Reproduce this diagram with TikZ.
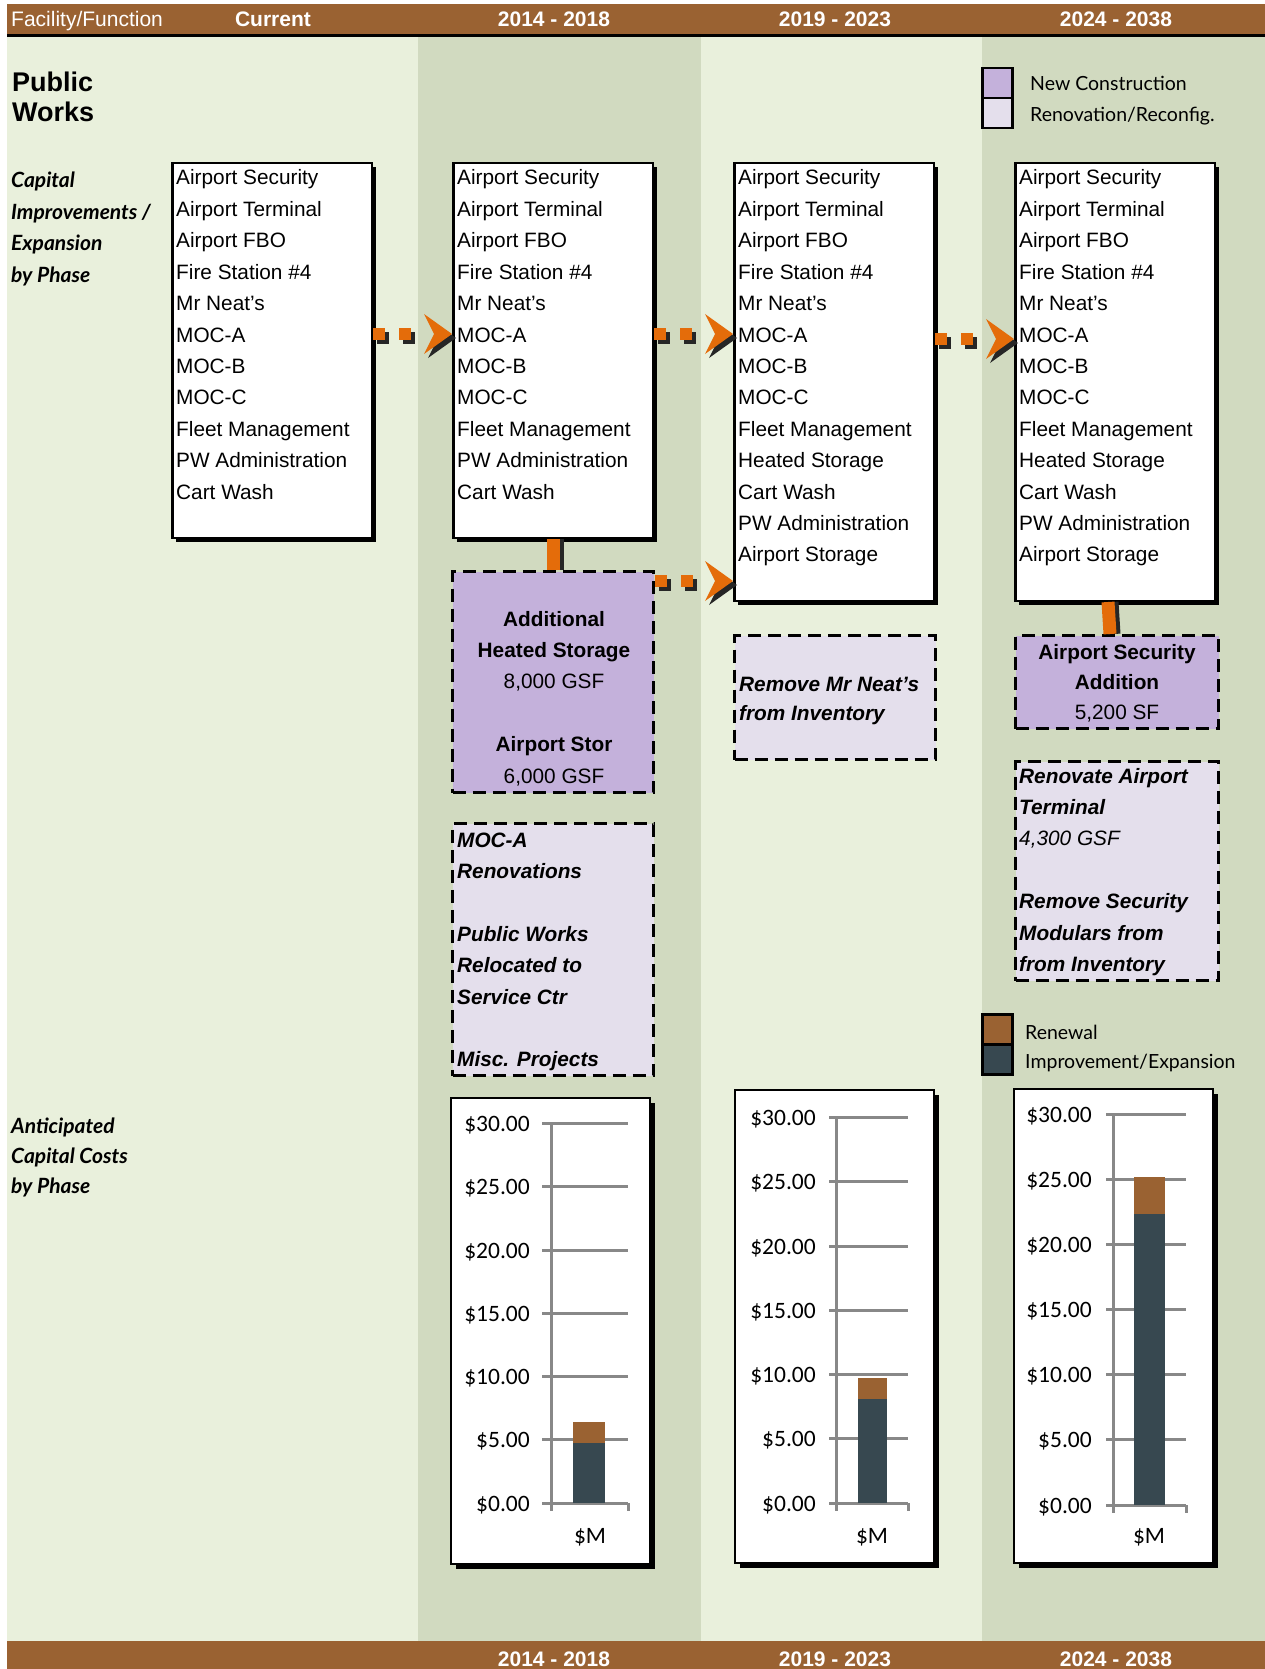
\documentclass[tikz,border=0pt]{standalone}
\usepackage{fontspec}
\setmainfont{Liberation Sans}
\newfontfamily\keyfont{Lato}
\newfontfamily\costfont{Carlito}
\usetikzlibrary{positioning,calc,arrows.meta,shadows}

\definecolor{barbrown}{HTML}{9A6232}
\definecolor{paleolive}{HTML}{E9F0DC}
\definecolor{darkolive}{HTML}{D1DAC0}
\definecolor{newpurple}{HTML}{C4B1DB}
\definecolor{renolav}{HTML}{E4DFEC}
\definecolor{floworange}{HTML}{E46C0A}
\definecolor{slate}{HTML}{374850}
\definecolor{gridgrey}{HTML}{888888}

\newcommand{\currentlist}{Airport Security, Airport Terminal, Airport FBO, Fire Station \#4, Mr Neat's, MOC-A, MOC-B, MOC-C, Fleet Management, PW Administration, Cart Wash}
\newcommand{\laterlist}{Airport Security, Airport Terminal, Airport FBO, Fire Station \#4, Mr Neat's, MOC-A, MOC-B, MOC-C, Fleet Management, Heated Storage, Cart Wash, PW Administration, Airport Storage}

\tikzset{
  listbox/.style={draw=black, line width=2.5pt, fill=white, anchor=north west, inner sep=0pt,
    minimum width=199.5pt,
    drop shadow={shadow xshift=4pt, shadow yshift=-4pt, opacity=1, fill=black}},
  chartbox/.style={draw=black, line width=2pt, fill=white, anchor=north west, inner sep=0pt,
    drop shadow={shadow xshift=5pt, shadow yshift=-5pt, opacity=1, fill=black}},
  phasebox/.style={draw=black, line width=3pt, dash pattern=on 13pt off 7pt,
    anchor=north west, inner sep=0pt},
  newbuild/.style={phasebox, fill=newpurple},
  renobox/.style={phasebox, fill=renolav},
  legkey/.style={draw=black, line width=2.5pt, anchor=north west, inner sep=0pt, outer sep=0pt,
    minimum width=30pt, minimum height=30pt},
  item/.style={anchor=base west, inner sep=0pt},
  boxline/.style={anchor=base, inner sep=0pt},
  boxnote/.style={anchor=base west, inner sep=0pt, font=\fontsize{20.8pt}{24pt}\selectfont\bfseries\itshape},
  hdrtext/.style={anchor=base, inner sep=0pt, text=white, font=\fontsize{21pt}{24pt}\selectfont\bfseries},
  sidecap/.style={anchor=base west, inner sep=0pt, font=\keyfont\fontsize{21pt}{24pt}\selectfont\bfseries\itshape},
  keytext/.style={anchor=base west, inner sep=0pt, font=\keyfont\fontsize{19.5pt}{22pt}\selectfont},
  costlabel/.style={anchor=base east, inner sep=0pt, font=\costfont\fontsize{23.5pt}{26pt}\selectfont},
  gridline/.style={gridgrey, line width=3pt},
  flow/.style={floworange, line width=12pt, dash pattern=on 12pt off 14pt on 12pt off 60pt,
    -{Stealth[length=28pt, width=40pt, inset=10pt, line width=0pt]}},
  flowshade/.style={flow, black!85, transform canvas={xshift=4pt, yshift=-4pt}},
  link/.style={floworange, line width=13pt},
  linkshade/.style={black!85, line width=13pt, transform canvas={xshift=4pt}}
}

\begin{document}
\begin{tikzpicture}[x=1pt, y=-1pt, font=\fontsize{20.8pt}{31.4pt}\selectfont]
  \useasboundingbox (0,0) rectangle (1265,1669);

  % background columns and bars
  \fill[white] (0,0) rectangle (1265,1669);
  \fill[paleolive] (7,37) rectangle (1265,1641);
  \fill[darkolive] (418,37) rectangle (701,1641);
  \fill[darkolive] (982,37) rectangle (1265,1641);
  \fill[barbrown] (7,4) rectangle (1265,34);
  \fill[black] (7,34) rectangle (1265,37);
  \fill[barbrown] (7,1641) rectangle (1265,1669);

  % header and footer
  \node[hdrtext, anchor=base west, font=\fontsize{21pt}{24pt}\selectfont] (hfac) at (11,27) {Facility/Function};
  \node[hdrtext] (hcur) at (273,27) {Current};
  \foreach \cx/\yr [count=\n] in {554/2014 - 2018, 835/2019 - 2023, 1116/2024 - 2038} {
    \node[hdrtext] (htop\n) at (\cx,27) {\yr};
    \node[hdrtext] (hbot\n) at (\cx,1666) {\yr};
  }

  % side captions
  \node[anchor=base west, inner sep=0pt, font=\fontsize{27pt}{30pt}\selectfont\bfseries] (pw1) at (12,92) {Public};
  \node[anchor=base west, inner sep=0pt, font=\fontsize{27pt}{30pt}\selectfont\bfseries] (pw2) at (12,122) {Works};
  \foreach \t [count=\k from 0] in {Capital, Improvements /, Expansion, by Phase}
    \node[sidecap] (capimp\k) at (11,{188+31.4*\k}) {\t};
  \foreach \t [count=\k from 0] in {Anticipated, Capital Costs, by Phase}
    \node[sidecap] (capcost\k) at (11,{1133+30*\k}) {\t};

  % facility lists by phase
  \node[listbox, minimum height=374.5pt] (cur) at (171,162) {};
  \node[listbox, minimum height=374.5pt] (pa) at (452,162) {};
  \node[listbox, minimum height=437.5pt] (pb) at (733,162) {};
  \node[listbox, minimum height=437.5pt] (pc) at (1014,162) {};
  \foreach \bx/\lx in {cur/176, pa/457} {
    \foreach \t [count=\k from 0] in \currentlist
      \node[item] (\bx-\k) at (\lx,{185+31.4*\k}) {\t};
  }
  \foreach \bx/\lx in {pb/738, pc/1019} {
    \foreach \t [count=\k from 0] in \laterlist
      \node[item] (\bx-\k) at (\lx,{185+31.4*\k}) {\t};
  }

  % projects
  \node[newbuild, minimum width=201pt, minimum height=221pt] (heat) at (451,570) {};
  \node[renobox, minimum width=201pt, minimum height=252pt] (mocreno) at (451,822) {};
  \node[renobox, minimum width=201pt, minimum height=124pt] (neat) at (733,634) {};
  \node[newbuild, minimum width=203pt, minimum height=93pt] (secadd) at (1014,634) {};
  \node[renobox, minimum width=203pt, minimum height=219pt] (renoterm) at (1014,760) {};

  \foreach \k/\t in {0/\textbf{Additional}, 1/\textbf{Heated Storage}, 2/{8,000 GSF}, 4/\textbf{Airport Stor}, 5/{6,000 GSF}}
    \node[boxline] (heat-\k) at (554,{626+31.4*\k}) {\t};
  \foreach \k/\t in {0/MOC-A, 1/Renovations, 3/Public Works, 4/Relocated to, 5/Service Ctr, 7/Misc. Projects}
    \node[boxnote] (moc-\k) at (457,{847+31.4*\k}) {\t};
  \foreach \k/\t in {0/Remove Mr Neat's, 1/from Inventory}
    \node[boxnote] (neat-\k) at (739,{691+29.5*\k}) {\t};
  \foreach \k/\t in {0/\textbf{Airport Security}, 1/\textbf{Addition}, 2/{5,200 SF}}
    \node[boxline] (sec-\k) at (1117,{659+30*\k}) {\t};
  \foreach \k/\t in {0/Renovate Airport, 1/Terminal, 2/{\mdseries 4,300 GSF}, 4/Remove Security, 5/Modulars from, 6/from Inventory}
    \node[boxnote] (term-\k) at (1019,{783+31.4*\k}) {\t};

  % connectors
  \coordinate (rowA) at (0,334);
  \coordinate (rowB) at (0,339);
  \coordinate (rowD) at (0,581);
  \foreach \a/\b/\r in {cur/pa/rowA, pa/pb/rowA, pb/pc/rowB, heat/pb/rowD} {
    \draw[flowshade] (\a.east |- \r) -- (\b.west |- \r);
    \draw[flow] (\a.east |- \r) -- (\b.west |- \r);
  }
  \draw[linkshade] (pa.south) -- (heat.north);
  \draw[link] (pa.south) -- (heat.north);
  \draw[linkshade] ([xshift=-7pt]pc.south) -- ([xshift=-7pt]secadd.north);
  \draw[link] ([xshift=-7pt]pc.south) -- ([xshift=-7pt]secadd.north);

  % legends
  \node[legkey, fill=newpurple] (keynew) at (982.25,68.25) {};
  \node[legkey, fill=renolav, below=0pt of keynew] (keyreno) {};
  \node[keytext] (keynewtxt) at (1030,91) {New Construction};
  \node[keytext] (keyrenotxt) at (1030,122) {Renovation/Reconfig.};
  \node[legkey, fill=barbrown] (keyrenew) at (982.25,1014.25) {};
  \node[legkey, fill=slate, below=0pt of keyrenew] (keyimp) {};
  \node[keytext] (keyrenewtxt) at (1025,1039) {Renewal};
  \node[keytext] (keyimptxt) at (1025,1068) {Improvement/Expansion};

  % cost charts
  \node[chartbox, minimum width=199pt, minimum height=466pt] (chart1) at (450,1097) {};
  \node[chartbox, minimum width=199pt, minimum height=473pt] (chart2) at (734,1089) {};
  \node[chartbox, minimum width=199pt, minimum height=474pt] (chart3) at (1013,1088) {};
  \foreach \n/\ax/\gl/\gr/\lx/\zero/\unit/\bl/\br/\imp/\tot/\mx in
    {1/551/542/628/530/1503/12.65/573/605/4.75/6.4/590,
     2/836/829/908/816/1503/12.85/858/887/8.1/9.7/872,
     3/1113/1106/1186/1092/1505/13.03/1134/1165/22.3/25.2/1149} {
    \foreach \v in {0,5,...,30} {
      \draw[gridline] (\gl,{\zero-\unit*\v}) -- (\gr,{\zero-\unit*\v});
      \node[costlabel] (cost\n-\v) at (\lx,{\zero-\unit*\v+8}) {\$\v.00};
    }
    \draw[gridline] (\ax,{\zero-\unit*30}) -- (\ax,{\zero+8});
    \draw[gridline] (\gr,\zero) -- (\gr,{\zero+8});
    \fill[slate] (\bl,\zero) rectangle (\br,{\zero-\unit*\imp});
    \fill[barbrown] (\bl,{\zero-\unit*\imp}) rectangle (\br,{\zero-\unit*\tot});
    \node[costlabel, anchor=base] (unit\n) at (\mx,1543) {\$M};
  }
\end{tikzpicture}
\end{document}
